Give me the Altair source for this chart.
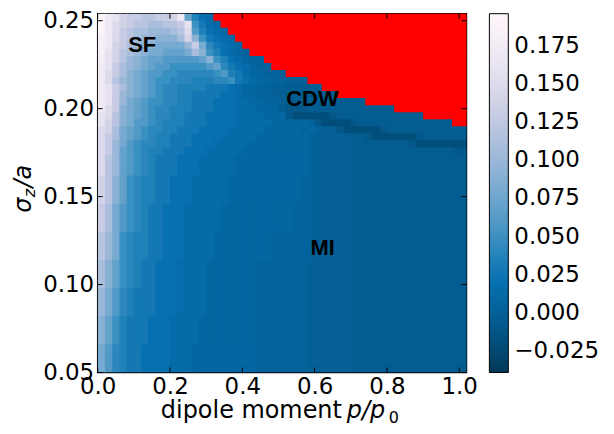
import altair as alt
import pandas as pd

# ---------------- grid geometry ----------------
X_START, X_STEP = 0.0, 0.02     # dipole moment p/p0, 51 columns (0.00 .. 1.00)
Y_START, Y_STEP = 0.05, 0.004   # sigma_z/a, 51 rows (0.050 .. 0.250)

# ---------------- value levels ----------------
level_codes = "abcdefghijklmnopqrstuvwxyzZ"
level_values = [-0.030, -0.020, -0.012, -0.006, -0.002, 0.003, 0.008, 0.014,
                0.020, 0.027, 0.034, 0.042, 0.050, 0.060, 0.070, 0.080, 0.090,
                0.100, 0.110, 0.120, 0.130, 0.140, 0.150, 0.160, 0.170, 0.180,
                0.190]
# 'R' = CDW phase (drawn red)

# rows, top (sigma=0.250) first; one character per column
row50 = "Zyxvuuttuuvyokih" + "R" * 35
row49 = "Zywvuttssttuxmjhg" + "R" * 34
row48 = "Zywutssrrrstwnkihg" + "R" * 33
row47 = "zywutsrrqqqsvqmjihg" + "R" * 32
row46 = "zyvusrqqpppprupljihg" + "R" * 31
row45 = "zxvtsrqppooopsqmkihgf" + "R" * 30
row44 = "zxvtrqpoonnnnnoqmkihgff" + "R" * 28
row43 = "yxusrqponnmmmmmnoljihgff" + "R" * 27
row42 = "ywusqponnmmlllllmnkjhggffe" + "R" * 25
row41 = "ywtrqponmmlllkkkllmjihggff" + "eee" + "R" * 22
row40 = "yxusqponmllkkkkjjjihggff" + "eeddddd" + "R" * 20
row39 = "yxurqponmllkkjjjjiihgg" + "ffeeddddddd" + "R" * 18
row38 = "yxurponmmllkkjjjiiihhggff" + "eddddddddddd" + "R" * 14
row37 = "ywuqponmllkkkjjjiiihhhggg" + "d" + "ccc" + "d" * 12 + "R" * 10
row36 = "xwtqponmllkkjjjiiiihhhhgg" + "g" + "c" + "bbbbb" + "c" + "d" * 12 + "R" * 6
row35 = "xvtqpnnmlkkkjjjiiiihhhhhgggg" + "gf" + "c" + "bbbb" + "c" + "d" * 13 + "RR"
row34 = "wvsponmllkkjjjiiiihhhhhgggggf" + "gf" + "ee" + "c" + "bbbbb" + "c" + "d" * 11
row33 = "wusponmlkkjjjiiiihhhhhgggggg" + "gf" + "eeeee" + "dd" + "c" + "bbbbbb" + "c" + "d" * 6
row32 = "wurpnmllkkjjjiiihhhhhgggggg" + "ggf" + "eeeee" + "d" * 8 + "c" + "b" * 7
row31 = "wuronmlkkjjjiiihhhhhgggggg" + "gggf" + "eeeee" + "d" * 14 + "cc"
band_28_30 = "wtronmlkjjjiiihhhhhggggggg" + "gggf" + "eeeee" + "d" * 16
band_24_27 = "vtqomlkkjjiiihhhhhggggggg" + "gggff" + "eeeee" + "d" * 16
band_20_23 = "uspnmlkjjiiihhhhhggggggg" + "gggfff" + "eeeee" + "d" * 16
band_16_19 = "trpmlkkjjiiihhhhgggggggg" + "ffffff" + "eeeee" + "d" * 16
band_12_15 = "sqomlkjjiiihhhhggggggg" + "fffffff" + "eeeeee" + "d" * 16
band_8_11 = "rpnlkjjjiiihhhhggggggg" + "fffffff" + "eeeeee" + "d" * 16
band_4_7 = "qomkjjjiiihhhhgggggggg" + "fffffff" + "eeeeee" + "d" * 16
band_0_3 = "pnlkjjiiiihhhggggggggg" + "fffffff" + "eeeeee" + "d" * 16

grid_rows_top_down = [row50, row49, row48, row47, row46, row45, row44, row43,
                      row42, row41, row40, row39, row38, row37, row36, row35,
                      row34, row33, row32, row31] \
    + [band_28_30] * 3 + [band_24_27] * 4 + [band_20_23] * 4 + [band_16_19] * 4 \
    + [band_12_15] * 4 + [band_8_11] * 4 + [band_4_7] * 4 + [band_0_3] * 4

region_labels = ["SF", "CDW", "MI"]
label_x = [0.123, 0.594, 0.622]
label_y = [0.2360, 0.2055, 0.1210]

x_ticks = [0.0, 0.2, 0.4, 0.6, 0.8, 1.0]
y_ticks = [0.05, 0.10, 0.15, 0.20, 0.25]
cbar_ticks = [-0.025, 0.0, 0.025, 0.05, 0.075, 0.1, 0.125, 0.15, 0.175]
c_min, c_max = -0.039, 0.196
pubu_r = ["#023858", "#045a8d", "#0570b0", "#3690c0", "#74a9cf",
          "#a6bddb", "#d0d1e6", "#ece7f2", "#fff7fb"]

# ---------------- build tables (bottom row first so overlaps hide seams) ----
n_rows = len(grid_rows_top_down)
OVER = 1.15
cells, red_cells = [], []
for r in range(n_rows):
    s = (grid_rows_top_down[n_rows - 1 - r] + "d" * 51)[:51]
    y0 = round(Y_START + r * Y_STEP, 4)
    y1 = round(y0 + Y_STEP * OVER, 5)
    for c, ch in enumerate(s):
        x0 = round(X_START + c * X_STEP, 4)
        x1 = round(x0 + X_STEP * OVER, 5)
        if ch == "R":
            red_cells.append({"x0": x0, "x1": x1, "y0": y0, "y1": y1})
        else:
            cells.append({"x0": x0, "x1": x1, "y0": y0, "y1": y1,
                          "v": level_values[level_codes.index(ch)]})
df = pd.DataFrame(cells)
df_red = pd.DataFrame(red_cells)
df_lab = pd.DataFrame({"name": region_labels, "lx": label_x, "ly": label_y})
df_xt = pd.DataFrame({"t": x_ticks})
df_yt = pd.DataFrame({"t": y_ticks})
one = pd.DataFrame({"k": [0]})

W, H = 370, 360
FONT = "DejaVu Sans"
FS = 23
xs = alt.Scale(domain=[0.0, 1.02], nice=False, zero=False)
ys = alt.Scale(domain=[0.05, 0.254], nice=False, zero=False)
stops = [c_min + (c_max - c_min) * k / 8 for k in range(9)]
cs = alt.Scale(domain=stops, range=pubu_r)

ax_x = alt.Axis(values=x_ticks, format=".1f", title=None, ticks=False,
                domain=False, grid=False, labelFontSize=FS, labelFont=FONT,
                labelColor="black", labelPadding=3, labelFlush=False,
                labelOverlap=False)
ax_y = alt.Axis(values=y_ticks, format=".2f", title=None, ticks=False,
                domain=False, grid=False, labelFontSize=FS, labelFont=FONT,
                labelColor="black", labelPadding=4, labelFlush=False,
                labelOverlap=False)

heat = alt.Chart(df).mark_rect(clip=True).encode(
    x=alt.X("x0:Q", scale=xs, axis=ax_x), x2="x1",
    y=alt.Y("y0:Q", scale=ys, axis=ax_y), y2="y1",
    color=alt.Color("v:Q", scale=cs, title=None, legend=alt.Legend(
        type="gradient", orient="none", legendX=393, legendY=0,
        direction="vertical", gradientLength=H, gradientThickness=19,
        values=cbar_ticks, format=".3f", labelFontSize=FS, labelFont=FONT,
        labelColor="black", labelOffset=6, gradientStrokeColor="black",
        gradientStrokeWidth=1, padding=0)),
)

red = alt.Chart(df_red).mark_rect(color="#ff0000", clip=True).encode(
    x=alt.X("x0:Q", scale=xs, axis=ax_x), x2="x1",
    y=alt.Y("y0:Q", scale=ys, axis=ax_y), y2="y1",
)

labels = alt.Chart(df_lab).mark_text(
    font="Liberation Sans", fontWeight="bold", fontSize=22, color="black"
).encode(
    x=alt.X("lx:Q", scale=xs, axis=ax_x),
    y=alt.Y("ly:Q", scale=ys, axis=ax_y),
    text="name:N",
)

tick_style = dict(color="black", strokeWidth=1)
xt_bottom = alt.Chart(df_xt).mark_rule(**tick_style).encode(
    x=alt.X("t:Q", scale=xs, axis=ax_x), y=alt.value(H), y2=alt.value(H - 5))
xt_top = alt.Chart(df_xt).mark_rule(**tick_style).encode(
    x=alt.X("t:Q", scale=xs, axis=ax_x), y=alt.value(0), y2=alt.value(5))
yt_left = alt.Chart(df_yt).mark_rule(**tick_style).encode(
    y=alt.Y("t:Q", scale=ys, axis=ax_y), x=alt.value(0), x2=alt.value(5))
yt_right = alt.Chart(df_yt).mark_rule(**tick_style).encode(
    y=alt.Y("t:Q", scale=ys, axis=ax_y), x=alt.value(W), x2=alt.value(W - 5))

def txt(s, x, y, size=FS, italic=False, align="center", angle=0, baseline="alphabetic"):
    kw = dict(font=FONT, fontSize=size, color="black", align=align,
              baseline=baseline, angle=angle)
    if italic:
        kw["fontStyle"] = "italic"
    return alt.Chart(one).mark_text(**kw).encode(
        x=alt.value(x), y=alt.value(y), text=alt.value(s))

xtitle = [
    txt("dipole moment", 245, 406, size=24, align="right"),
    txt("p/p", 250, 406, size=24, italic=True, align="left"),
    txt("0", 292, 411, size=16, align="left"),
]
ytitle = [
    txt("σ", -74, 192, size=24, italic=True, angle=270, baseline="middle"),
    txt("z", -68, 180, size=16, italic=True, angle=270, baseline="middle"),
    txt("/a", -74, 163, size=24, italic=True, angle=270, baseline="middle"),
]

chart = alt.layer(
    heat, red, labels, xt_bottom, xt_top, yt_left, yt_right, *xtitle, *ytitle
).properties(
    width=W, height=H,
    autosize=alt.AutoSizeParams(type="none"),
    padding={"left": 90, "top": 5, "right": 140, "bottom": 58},
).configure_view(stroke="black", strokeWidth=1.5)

chart.save("out.html", embed_options={"renderer": "svg", "actions": False})
